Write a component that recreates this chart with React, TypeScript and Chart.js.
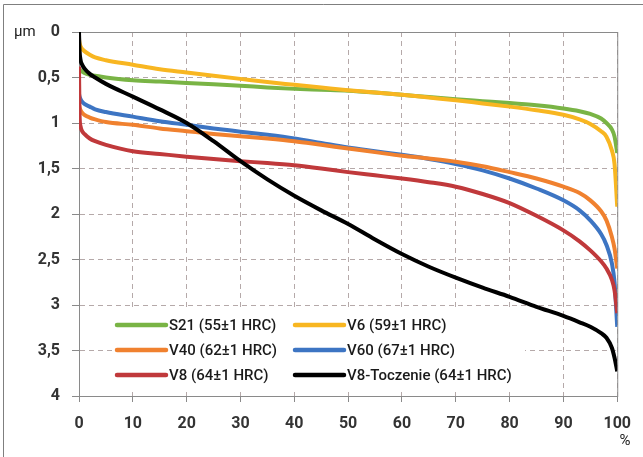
import React, { useEffect, useRef } from "react";
import { Chart, registerables } from "chart.js";

Chart.register(...registerables);

const xPercent = [0, 0.1, 0.3, 0.5, 1, 2, 3, 5, 10, 15, 20, 25, 30, 35, 40, 45, 50, 55, 60, 65, 70, 75, 80, 85, 90, 93, 95, 97, 98, 99, 99.5, 100];

const seriesLabels = ["S21 (55±1 HRC)", "V6 (59±1 HRC)", "V40 (62±1 HRC)", "V60 (67±1 HRC)", "V8 (64±1 HRC)", "V8-Toczenie (64±1 HRC)"];

const s21 = [0.40, 0.41, 0.42, 0.43, 0.45, 0.47, 0.48, 0.50, 0.53, 0.545, 0.56, 0.575, 0.59, 0.61, 0.625, 0.635, 0.645, 0.665, 0.69, 0.715, 0.74, 0.76, 0.78, 0.805, 0.84, 0.87, 0.9, 0.95, 1.0, 1.07, 1.15, 1.33];
const v6 = [0.08, 0.12, 0.16, 0.18, 0.21, 0.25, 0.28, 0.31, 0.36, 0.41, 0.445, 0.48, 0.515, 0.55, 0.58, 0.61, 0.64, 0.665, 0.69, 0.72, 0.75, 0.785, 0.82, 0.86, 0.91, 0.96, 1.01, 1.09, 1.15, 1.3, 1.45, 1.92];
const v40 = [0.8, 0.83, 0.86, 0.88, 0.91, 0.94, 0.96, 0.99, 1.02, 1.06, 1.09, 1.12, 1.145, 1.17, 1.2, 1.24, 1.28, 1.32, 1.36, 1.39, 1.425, 1.475, 1.54, 1.61, 1.7, 1.77, 1.85, 1.97, 2.07, 2.25, 2.38, 2.6];
const v60 = [0.68, 0.71, 0.74, 0.76, 0.79, 0.82, 0.85, 0.88, 0.93, 0.98, 1.02, 1.06, 1.095, 1.13, 1.17, 1.22, 1.27, 1.31, 1.35, 1.395, 1.45, 1.52, 1.61, 1.72, 1.85, 1.96, 2.07, 2.22, 2.34, 2.54, 2.75, 3.24];
const v8 = [0.38, 0.9, 1.04, 1.08, 1.12, 1.17, 1.2, 1.24, 1.31, 1.34, 1.37, 1.395, 1.42, 1.44, 1.465, 1.5, 1.54, 1.575, 1.61, 1.65, 1.7, 1.78, 1.88, 2.02, 2.18, 2.3, 2.4, 2.52, 2.6, 2.72, 2.84, 3.09];
const v8Toczenie = [0, 0.2, 0.31, 0.35, 0.4, 0.46, 0.5, 0.57, 0.71, 0.85, 1.0, 1.2, 1.42, 1.62, 1.8, 1.96, 2.11, 2.28, 2.44, 2.58, 2.7, 2.81, 2.91, 3.02, 3.12, 3.19, 3.24, 3.31, 3.36, 3.47, 3.58, 3.73];

const seriesValues = [s21, v6, v40, v60, v8, v8Toczenie];
const seriesColors = ["#79b445", "#f8b621", "#f0812f", "#3d75c3", "#c0393b", "#000000"];
const drawOrder = [5, 4, 2, 3, 1, 0];

const yTicks = [0, 0.5, 1, 1.5, 2, 2.5, 3, 3.5, 4];
const xTicks = [0, 10, 20, 30, 40, 50, 60, 70, 80, 90, 100];

const FONT = "Roboto, 'Liberation Sans', sans-serif";

const decorPlugin = {
  id: "decor",
  beforeDraw(chart: any) {
    const ctx = chart.ctx;
    ctx.save();
    ctx.fillStyle = "#ffffff";
    ctx.fillRect(0, 0, chart.width, chart.height);
    ctx.strokeStyle = "#7f7f7f";
    ctx.lineWidth = 1;
    ctx.beginPath();
    ctx.moveTo(3.5, chart.height);
    ctx.lineTo(3.5, 4.5);
    ctx.lineTo(chart.width, 4.5);
    ctx.stroke();
    ctx.restore();
  },
  beforeDatasetsDraw(chart: any) {
    const { ctx, chartArea } = chart;
    ctx.save();
    ctx.strokeStyle = "#8a8a8a";
    ctx.lineWidth = 1;
    ctx.strokeRect(chartArea.left + 0.5, chartArea.top + 0.5, chartArea.right - chartArea.left, chartArea.bottom - chartArea.top);
    ctx.fillStyle = "#222222";
    ctx.font = `15px ${FONT}`;
    ctx.textBaseline = "middle";
    ctx.textAlign = "left";
    ctx.fillText("µm", 14, 32);
    ctx.textAlign = "center";
    ctx.fillText("%", 625, 441);
    ctx.restore();
  },
  afterDatasetsDraw(chart: any) {
    const ctx = chart.ctx;
    const ds = chart.data.datasets;
    ctx.save();
    ctx.fillStyle = "#ffffff";
    ctx.fillRect(112, 309, 413, 83);
    const colX = [117, 295];
    const rowY = [325, 350, 375];
    ctx.font = `500 15px ${FONT}`;
    ctx.textBaseline = "middle";
    ctx.textAlign = "left";
    ds.forEach((d: any, i: number) => {
      const cx = colX[i % 2];
      const cy = rowY[Math.floor(i / 2)];
      ctx.strokeStyle = d.borderColor;
      ctx.lineWidth = 4.5;
      ctx.lineCap = "round";
      ctx.beginPath();
      ctx.moveTo(cx, cy);
      ctx.lineTo(cx + 49, cy);
      ctx.stroke();
      ctx.fillStyle = "#1a1a1a";
      ctx.fillText(d.label, cx + 52, cy + 1);
    });
    ctx.restore();
  },
};

export default function App() {
  const canvasRef = useRef<HTMLCanvasElement | null>(null);

  useEffect(() => {
    if (!canvasRef.current) return;
    const chart = new Chart(canvasRef.current, {
      type: "line",
      data: {
        datasets: seriesValues.map((vals, i) => ({
          label: seriesLabels[i],
          data: vals.map((v, j) => ({ x: xPercent[j], y: v })),
          borderColor: seriesColors[i],
          backgroundColor: seriesColors[i],
          borderWidth: 4,
          pointRadius: 0,
          cubicInterpolationMode: "monotone" as const,
          order: drawOrder[i],
          fill: false,
        })),
      },
      options: {
        animation: false,
        responsive: false,
        maintainAspectRatio: false,
        layout: { padding: { left: 0, right: 23, top: 32, bottom: 0 } },
        plugins: {
          legend: { display: false },
          tooltip: { enabled: false },
        },
        scales: {
          x: {
            type: "linear",
            min: 0,
            max: 100,
            afterBuildTicks: (scale: any) => {
              scale.ticks = xTicks.map((v) => ({ value: v }));
            },
            afterFit: (scale: any) => {
              scale.height = 61;
            },
            grid: {
              color: "#b5a9a9",
              tickColor: "#8a8a8a",
              tickLength: 6,
              lineWidth: 1,
            },
            border: { display: true, color: "#8a8a8a", dash: [5, 4] },
            ticks: {
              color: "#333333",
              font: { family: FONT, size: 16, weight: "bold" },
              padding: 12,
              maxRotation: 0,
              autoSkip: false,
            },
          },
          y: {
            type: "linear",
            reverse: true,
            min: 0,
            max: 4,
            afterBuildTicks: (scale: any) => {
              scale.ticks = yTicks.map((v) => ({ value: v }));
            },
            afterFit: (scale: any) => {
              scale.width = 79;
            },
            grid: {
              color: "#b5a9a9",
              tickColor: "#8a8a8a",
              tickLength: 7,
              lineWidth: 1,
            },
            border: { display: true, color: "#8a8a8a", dash: [5, 4] },
            ticks: {
              color: "#333333",
              font: { family: FONT, size: 16, weight: "bold" },
              padding: 12,
              autoSkip: false,
              callback: (v: any) => String(v).replace(".", ","),
            },
          },
        },
      },
      plugins: [decorPlugin],
    });
    return () => chart.destroy();
  }, []);

  return (
    <div style={{ position: "absolute", left: 0, top: 0, width: 643, height: 457, background: "#fff" }}>
      <canvas ref={canvasRef} width={643} height={457} style={{ display: "block", width: 643, height: 457 }} />
    </div>
  );
}
